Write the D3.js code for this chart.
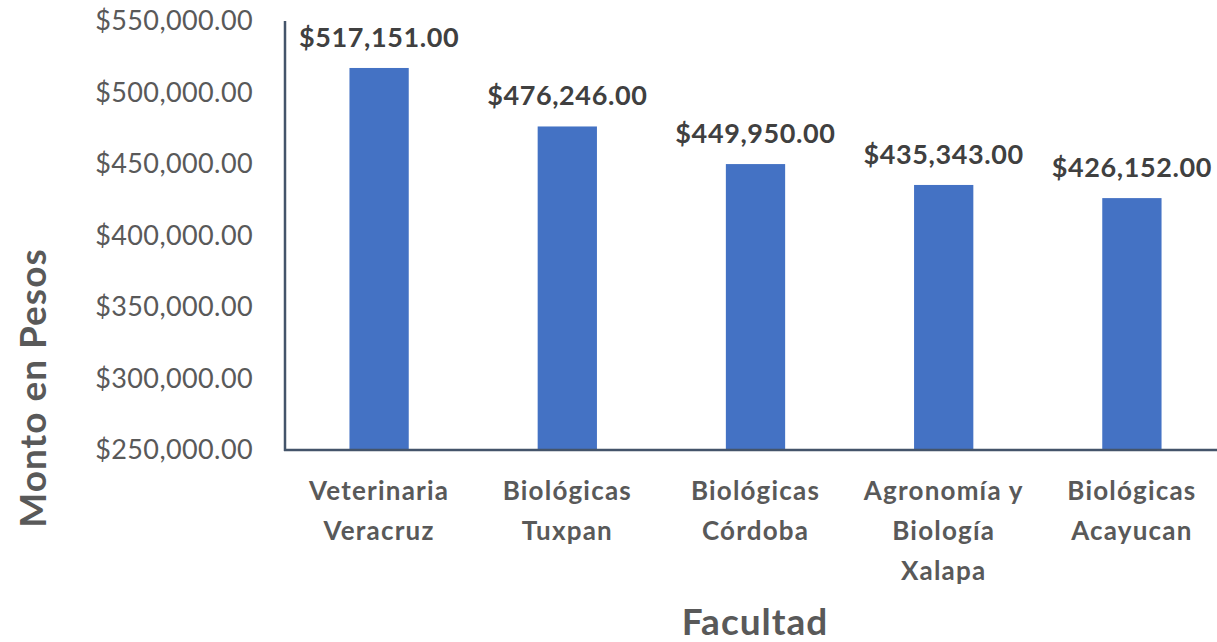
<!DOCTYPE html>
<html>
<head>
<meta charset="utf-8">
<script src="https://cdn.jsdelivr.net/npm/d3@7"></script>
<style>
  body { margin: 0; background: #fff; }
  #vis { width: 1217px; height: 642px; }
  text { font-family: Lato, "Open Sans", sans-serif; }
</style>
</head>
<body>
<div id="vis"></div>
<script>
var facultades = [
    ['Veterinaria', 'Veracruz'],
    ['Biológicas', 'Tuxpan'],
    ['Biológicas', 'Córdoba'],
    ['Agronomía y', 'Biología', 'Xalapa'],
    ['Biológicas', 'Acayucan']
];
var montos = [517151, 476246, 449950, 435343, 426152];
var yTicks = [250000, 300000, 350000, 400000, 450000, 500000, 550000];

var width = 1217, height = 642;

var svg = d3.select('#vis')
    .append('svg')
    .attr('width', width)
    .attr('height', height);

var x_scale = d3.scaleBand()
    .domain(d3.range(facultades.length))
    .range([285, 1226])
    .paddingInner(0.685)
    .paddingOuter(0.3425);

var y_scale = d3.scaleLinear()
    .domain([250000, 550000])
    .range([450, 21]);

var money = d3.format('$,.2f');

// y tick labels (no tick marks, no gridlines)
svg.append('g')
    .selectAll('text')
    .data(yTicks)
    .enter()
    .append('text')
    .attr('x', 253)
    .attr('y', function(d) { return y_scale(d); })
    .attr('dy', '0.35em')
    .attr('text-anchor', 'end')
    .attr('fill', '#595959')
    .style('font-size', '27px')
    .style('letter-spacing', '0.4px')
    .text(function(d) { return money(d); });

// bars
svg.selectAll('.bar')
    .data(montos)
    .enter()
    .append('rect')
    .attr('class', 'bar')
    .attr('x', function(d, i) { return x_scale(i); })
    .attr('width', x_scale.bandwidth())
    .attr('y', function(d) { return y_scale(d); })
    .attr('height', function(d) { return y_scale(250000) - y_scale(d); })
    .attr('fill', '#4472c4');

// value labels
svg.selectAll('.val')
    .data(montos)
    .enter()
    .append('text')
    .attr('class', 'val')
    .attr('x', function(d, i) { return x_scale(i) + x_scale.bandwidth() / 2; })
    .attr('y', function(d) { return y_scale(d) - 21; })
    .attr('text-anchor', 'middle')
    .attr('fill', '#404040')
    .style('font-size', '27px')
    .style('font-weight', 'bold')
    .style('letter-spacing', '0.6px')
    .text(function(d) { return money(d); });

// axes lines
svg.append('line')
    .attr('x1', 285).attr('x2', 285)
    .attr('y1', y_scale(550000)).attr('y2', y_scale(250000) + 1)
    .attr('stroke', '#44546a').attr('stroke-width', 2.5);

svg.append('line')
    .attr('x1', 284).attr('x2', width)
    .attr('y1', y_scale(250000)).attr('y2', y_scale(250000))
    .attr('stroke', '#44546a').attr('stroke-width', 2.5);

// category labels
var cats = svg.selectAll('.cat')
    .data(facultades)
    .enter()
    .append('text')
    .attr('class', 'cat')
    .attr('text-anchor', 'middle')
    .attr('fill', '#595959')
    .style('font-size', '26px')
    .style('font-weight', 'bold')
    .style('letter-spacing', '1.2px')
    .attr('transform', function(d, i) {
        return 'translate(' + (x_scale(i) + x_scale.bandwidth() / 2) + ',500)';
    });

cats.selectAll('tspan')
    .data(function(d) { return d; })
    .enter()
    .append('tspan')
    .attr('x', 0)
    .attr('y', function(d, j) { return j * 40; })
    .text(function(d) { return d; });

// axis titles
svg.append('text')
    .attr('x', 755)
    .attr('y', 635)
    .attr('text-anchor', 'middle')
    .attr('fill', '#595959')
    .style('font-size', '37px')
    .style('font-weight', 'bold')
    .style('letter-spacing', '1px')
    .text('Facultad');

svg.append('text')
    .attr('transform', 'translate(46,388) rotate(-90)')
    .attr('text-anchor', 'middle')
    .attr('fill', '#595959')
    .style('font-size', '37px')
    .style('font-weight', 'bold')
    .style('letter-spacing', '1px')
    .text('Monto en Pesos');
</script>
</body>
</html>
